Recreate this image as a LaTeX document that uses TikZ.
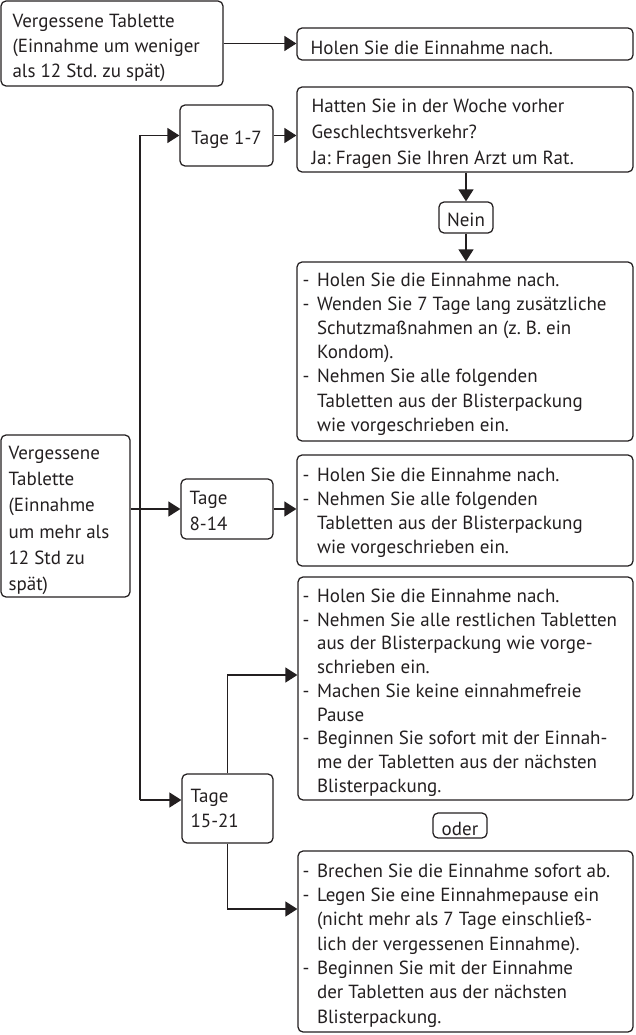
\documentclass[tikz,border=0pt]{standalone}
\usepackage{fontspec}
\setmainfont{PT Sans}
\usetikzlibrary{arrows.meta,calc}
\definecolor{ink}{HTML}{231F20}
\newcommand\itm{\makebox[14.5pt][l]{-}}
\newcommand\cnt{\hspace*{14.5pt}}
\tikzset{
  box/.style={draw=ink, line width=1.25pt, rounded corners=5pt, inner sep=0pt},
  txt/.style={text=ink, align=left, inner sep=0pt, anchor=west},
  fs/.style={font=\fontsize{19}{#1}\selectfont\frenchspacing},
  arr/.style={draw=ink, line width=1.25pt, -{Triangle[length=12pt,width=15pt]}},
  ln/.style={draw=ink, line width=1.25pt}
}
\begin{document}
\begin{tikzpicture}[x=1pt,y=-1pt]
\useasboundingbox (0,0) rectangle (635,1035);
% ---- boxes
\node[box, minimum width=222pt, minimum height=85pt] (A) at (112,43.5) {};
\node[box, minimum width=336pt, minimum height=32pt] (B) at (465,44) {};
\node[box, minimum width=336pt, minimum height=85pt] (C) at (465,129.5) {};
\node[box, minimum width=93pt, minimum height=61pt] (T1) at (226.5,135.5) {};
\node[box, minimum width=54pt, minimum height=31pt] (N) at (466,217.5) {};
\node[box, minimum width=336pt, minimum height=179pt] (D) at (465,351.5) {};
\node[box, minimum width=129pt, minimum height=162pt] (H) at (65.5,516) {};
\node[box, minimum width=92pt, minimum height=60pt] (T2) at (227,509) {};
\node[box, minimum width=336pt, minimum height=111pt] (E) at (465,510.5) {};
\node[box, minimum width=91pt, minimum height=69pt] (T3) at (227.5,808.5) {};
\node[box, minimum width=335pt, minimum height=223pt] (F) at (465.5,688.5) {};
\node[box, minimum width=54pt, minimum height=25pt] (O) at (460,825.5) {};
\node[box, minimum width=335pt, minimum height=181pt] (G) at (465.5,941.5) {};
% ---- texts
\node[txt, fs=25] (At) at ($(A.west)+(12,4.5)$)
  {Vergessene Tablette\\(Einnahme um weniger\\als 12 Std. zu spät)};
\node[txt, fs=25] (Bt) at ($(B.west)+(14,4)$) {Holen Sie die Einnahme nach.};
\node[txt, fs=26] (Ct) at ($(C.west)+(15,4.5)$)
  {Hatten Sie in der Woche vorher\\Geschlechtsverkehr?\\Ja: Fragen Sie Ihren Arzt um Rat.};
\node[txt, fs=25, anchor=center] (T1t) at ($(T1.center)+(0,4)$) {Tage 1-7};
\node[txt, fs=25, anchor=center] (Nt) at ($(N.center)+(0,2)$) {Nein};
\node[txt, fs=24.2] (Dt) at ($(D.west)+(6,2.5)$)
  {\itm Holen Sie die Einnahme nach.\\
   \itm Wenden Sie 7 Tage lang zusätzliche\\
   \cnt Schutzmaßnahmen an (z. B. ein\\
   \cnt Kondom).\\
   \itm Nehmen Sie alle folgenden\\
   \cnt Tabletten aus der Blisterpackung\\
   \cnt wie vorgeschrieben ein.};
\node[txt, fs=26.3] (Ht) at ($(H.west)+(8,4.5)$)
  {Vergessene\\Tablette\\(Einnahme\\um mehr als\\12 Std zu\\spät)};
\node[txt, fs=26] (T2t) at ($(T2.west)+(9,1.5)$) {Tage\\8-14};
\node[txt, fs=24] (Et) at ($(E.west)+(6,2.5)$)
  {\itm Holen Sie die Einnahme nach.\\
   \itm Nehmen Sie alle folgenden\\
   \cnt Tabletten aus der Blisterpackung\\
   \cnt wie vorgeschrieben ein.};
\node[txt, fs=25] (T3t) at ($(T3.west)+(9,-0.5)$) {Tage\\15-21};
\node[txt, fs=23.75] (Ft) at ($(F.west)+(5,4)$)
  {\itm Holen Sie die Einnahme nach.\\
   \itm Nehmen Sie alle restlichen Tabletten\\
   \cnt aus der Blisterpackung wie vorge-\\
   \cnt schrieben ein.\\
   \itm Machen Sie keine einnahmefreie\\
   \cnt Pause\\
   \itm Beginnen Sie sofort mit der Einnah-\\
   \cnt me der Tabletten aus der nächsten\\
   \cnt Blisterpackung.};
\node[txt, fs=25, anchor=center] (Ot) at ($(O.center)+(0,3)$) {oder};
\node[txt, fs=24.3] (Gt) at ($(G.west)+(5,4)$)
  {\itm Brechen Sie die Einnahme sofort ab.\\
   \itm Legen Sie eine Einnahmepause ein\\
   \cnt (nicht mehr als 7 Tage einschließ-\\
   \cnt lich der vergessenen Einnahme).\\
   \itm Beginnen Sie mit der Einnahme\\
   \cnt der Tabletten aus der nächsten\\
   \cnt Blisterpackung.};
% ---- connectors
\draw[arr] (A.east) -- (A.east -| B.west);
\coordinate (vtop) at (140,135.5);
\coordinate (vbot) at (140,800);
\draw[ln] (vtop) -- (vbot);
\draw[arr] (vtop) -- (T1.west);
\draw[arr] (vbot) -- (vbot -| T3.west);
\draw[arr] (T1.east) -- (T1.east -| C.west);
\draw[arr] (N.north |- C.south) -- (N.north);
\draw[arr] (N.south) -- (N.south |- D.north);
\draw[arr] (T2.west -| H.east) -- (T2.west);
\draw[arr] (T2.east) -- (T2.east -| E.west);
\draw[arr] (T3.north) |- ($(F.west)+(0,-13.5)$);
\draw[arr] (T3.south) |- ($(G.west)+(0,-32.5)$);
\end{tikzpicture}
\end{document}
